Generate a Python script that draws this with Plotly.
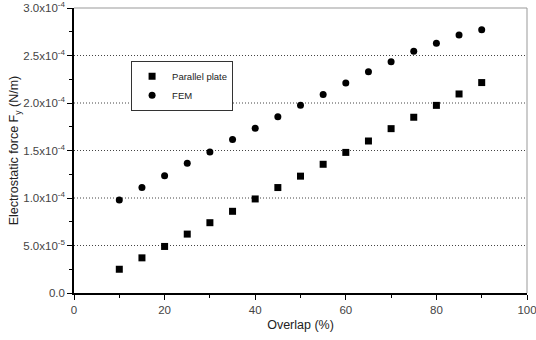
import plotly.graph_objects as go

overlap = [10, 15, 20, 25, 30, 35, 40, 45, 50, 55, 60, 65, 70, 75, 80, 85, 90]
parallel_plate = [0.25e-4, 0.37e-4, 0.49e-4, 0.62e-4, 0.74e-4, 0.86e-4, 0.99e-4, 1.11e-4, 1.23e-4,
                  1.355e-4, 1.48e-4, 1.6e-4, 1.73e-4, 1.85e-4, 1.975e-4, 2.095e-4, 2.215e-4]
fem = [0.98e-4, 1.11e-4, 1.235e-4, 1.365e-4, 1.485e-4, 1.615e-4, 1.735e-4, 1.855e-4, 1.975e-4,
       2.09e-4, 2.21e-4, 2.33e-4, 2.435e-4, 2.545e-4, 2.63e-4, 2.715e-4, 2.77e-4]

y_tickvals = [0, 0.5e-4, 1.0e-4, 1.5e-4, 2.0e-4, 2.5e-4, 3.0e-4]
y_ticktext = ["0.0", "5.0x10<sup>-5</sup>", "1.0x10<sup>-4</sup>", "1.5x10<sup>-4</sup>",
              "2.0x10<sup>-4</sup>", "2.5x10<sup>-4</sup>", "3.0x10<sup>-4</sup>"]
x_tickvals = [0, 20, 40, 60, 80, 100]

font = "Liberation Sans, Arial, sans-serif"

fig = go.Figure()
fig.add_trace(go.Scatter(x=overlap, y=parallel_plate, mode="markers", name="Parallel plate",
                         marker=dict(symbol="square", size=7, color="black")))
fig.add_trace(go.Scatter(x=overlap, y=fem, mode="markers", name="FEM",
                         marker=dict(symbol="circle", size=7, color="black")))

# dotted horizontal grid lines
for v in y_tickvals[1:-1]:
    fig.add_shape(type="line", xref="paper", x0=0, x1=1, yref="y", y0=v, y1=v,
                  line=dict(color="#444444", width=1, dash="1px,2px"), layer="below")
# top and right frame (grey)
fig.add_shape(type="line", xref="paper", yref="paper", x0=0, x1=1, y0=1, y1=1,
              line=dict(color="#999999", width=1))
fig.add_shape(type="line", xref="paper", yref="paper", x0=1, x1=1, y0=0, y1=1,
              line=dict(color="#999999", width=1))

fig.update_layout(
    width=536, height=340,
    margin=dict(l=74, r=9, t=8, b=47, autoexpand=False),
    plot_bgcolor="white", paper_bgcolor="white",
    font=dict(family=font, size=11, color="#333333"),
    showlegend=True,
    legend=dict(x=0.126, y=0.815, xanchor="left", yanchor="top",
                bordercolor="#333333", borderwidth=1, bgcolor="white",
                font=dict(size=9.5, color="#222222"), tracegroupgap=0,
                itemwidth=30),
    xaxis=dict(range=[0, 100], tickvals=x_tickvals, showgrid=False, zeroline=False,
               showline=True, linecolor="black", linewidth=1.5, automargin=False,
               ticklabeloverflow="allow",
               ticks="outside", ticklen=5, tickcolor="black",
               minor=dict(dtick=10, ticks="outside", ticklen=3, tickcolor="black"),
               title=dict(text="Overlap (%)", font=dict(size=12.5, color="#222222"), standoff=6),
               tickfont=dict(size=11.5, color="#444444")),
    yaxis=dict(range=[0, 3.0e-4], tickvals=y_tickvals, ticktext=y_ticktext,
               showgrid=False, zeroline=False, automargin=False,
               ticklabeloverflow="allow",
               showline=True, linecolor="black", linewidth=1.5,
               ticks="outside", ticklen=5, tickcolor="black",
               minor=dict(dtick=0.25e-4, ticks="outside", ticklen=3, tickcolor="black"),
               title=dict(text="Electrostatic force F<sub>y</sub> (N/m)",
                          font=dict(size=12.5, color="#222222"), standoff=2),
               tickfont=dict(size=11.5, color="#444444")),
)

fig.write_html("out.html")
